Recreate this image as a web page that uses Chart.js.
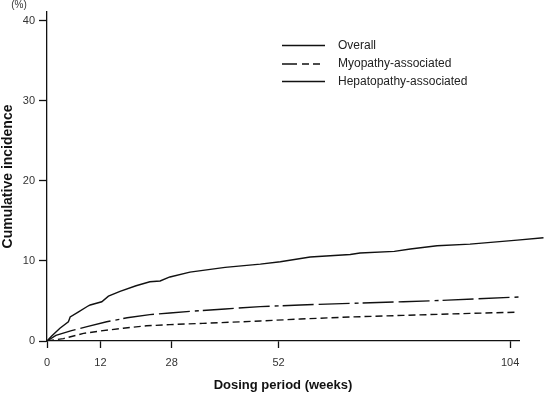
<!DOCTYPE html>
<html>
<head>
<meta charset="utf-8">
<script src="https://cdn.jsdelivr.net/npm/chart.js@4/dist/chart.umd.min.js"></script>
<style>
  html, body { margin: 0; padding: 0; background: #fff; }
  canvas { display: block; }
</style>
</head>
<body>
<canvas id="incidenceChart" width="544" height="395"></canvas>
<script>
// Values (weeks, % cumulative incidence)
const overallWeeks = [0, 1, 2.9, 4.8, 5.0, 5.2, 7, 9.3, 9.7, 12.3, 13.8, 16.4, 20, 23.1, 25.4, 27.6, 32.1, 40, 47.9, 52.4, 59.1, 68.1, 70.3, 78, 81.6, 87.6, 95, 105.6, 111.5];
const overallValues = [0, 0.6, 1.6, 2.4, 2.7, 3.0, 3.6, 4.4, 4.5, 4.9, 5.6, 6.2, 6.9, 7.4, 7.5, 8.0, 8.6, 9.2, 9.6, 9.9, 10.5, 10.8, 11.0, 11.2, 11.5, 11.9, 12.1, 12.6, 12.9];

const hepatoWeeks = [0, 2, 5.5, 9, 13.4, 18, 23.1, 27.6, 32.1, 40, 47.9, 56.9, 68.1, 80, 90, 106];
const hepatoValues = [0, 0.7, 1.3, 1.8, 2.4, 2.9, 3.3, 3.5, 3.7, 4.0, 4.3, 4.5, 4.7, 4.9, 5.1, 5.5];

const myoWeeks = [0, 3.7, 8.2, 12, 17.1, 22.4, 27.6, 35, 47.9, 56.9, 68.1, 80, 95, 105.6];
const myoValues = [0, 0.3, 0.95, 1.25, 1.6, 1.9, 2.05, 2.2, 2.5, 2.75, 3.0, 3.2, 3.45, 3.6];

const xTicks = [0, 12, 28, 52, 104];
const yTicks = [0, 10, 20, 30, 40];

const legendLabels = ['Overall', 'Myopathy-associated', 'Hepatopathy-associated'];

const toPoints = (xs, ys) => xs.map((x, i) => ({ x, y: ys[i] }));

const FONT = "'Liberation Sans', Arial, sans-serif";

// legend drawn by hand so it sits inside the plot like the original
const legendPlugin = {
  id: 'plotLegend',
  afterDraw(chart) {
    const ctx = chart.ctx;
    const dashes = [[], [15, 5, 7, 4, 7, 5], []];
    const rows = [45.5, 64, 81.5];
    ctx.save();
    ctx.strokeStyle = '#111';
    ctx.lineWidth = 1.3;
    ctx.fillStyle = '#222';
    ctx.font = '12px ' + FONT;
    ctx.textBaseline = 'middle';
    legendLabels.forEach((label, i) => {
      ctx.setLineDash(dashes[i]);
      ctx.beginPath();
      ctx.moveTo(282, rows[i]);
      ctx.lineTo(325, rows[i]);
      ctx.stroke();
      ctx.fillText(label, 338, rows[i]);
    });
    ctx.setLineDash([]);
    // unit label above the y axis
    ctx.font = '10px ' + FONT;
    ctx.fillStyle = '#333';
    ctx.textAlign = 'center';
    ctx.fillText('(%)', 19, 5);
    ctx.restore();
  }
};

new Chart(document.getElementById('incidenceChart'), {
  type: 'line',
  data: {
    datasets: [
      {
        label: legendLabels[0],
        data: toPoints(overallWeeks, overallValues),
        borderColor: '#111',
        borderWidth: 1.4,
        clip: false,
      },
      {
        label: legendLabels[2],
        data: toPoints(hepatoWeeks, hepatoValues),
        borderColor: '#111',
        borderWidth: 1.4,
        borderDash: [31, 5, 31, 5, 4, 4],
      },
      {
        label: legendLabels[1],
        data: toPoints(myoWeeks, myoValues),
        borderColor: '#111',
        borderWidth: 1.4,
        borderDash: [7, 4],
      },
    ],
  },
  options: {
    responsive: false,
    animation: false,
    events: [],
    elements: {
      point: { radius: 0 },
      line: { tension: 0, fill: false },
    },
    layout: { padding: { top: 12, right: 25, left: 0, bottom: 0 } },
    plugins: {
      legend: { display: false },
      tooltip: { enabled: false },
    },
    scales: {
      x: {
        type: 'linear',
        min: 0,
        max: 106,
        afterBuildTicks: scale => { scale.ticks = xTicks.map(v => ({ value: v })); },
        afterFit: scale => { scale.height = 54; },
        grid: { drawOnChartArea: false, tickLength: 7, tickColor: '#111', tickWidth: 1.3 },
        border: { color: '#111', width: 1.3 },
        ticks: { color: '#333', font: { family: FONT, size: 11 }, padding: 8, maxRotation: 0 },
        title: {
          display: true,
          text: 'Dosing period (weeks)',
          color: '#111',
          font: { family: FONT, size: 13, weight: 'bold' },
          padding: { top: 0, bottom: 2 },
        },
      },
      y: {
        min: 0,
        max: 41.1,
        afterBuildTicks: scale => { scale.ticks = yTicks.map(v => ({ value: v })); },
        afterFit: scale => { scale.width = 47; },
        grid: { drawOnChartArea: false, tickLength: 8, tickColor: '#111', tickWidth: 1.3 },
        border: { color: '#111', width: 1.3 },
        ticks: { color: '#333', font: { family: FONT, size: 11 }, padding: 4 },
        title: {
          display: true,
          text: 'Cumulative incidence',
          color: '#111',
          font: { family: FONT, size: 14, weight: 'bold' },
          padding: { top: 0, bottom: 0 },
        },
      },
    },
  },
  plugins: [legendPlugin],
});
</script>
</body>
</html>
